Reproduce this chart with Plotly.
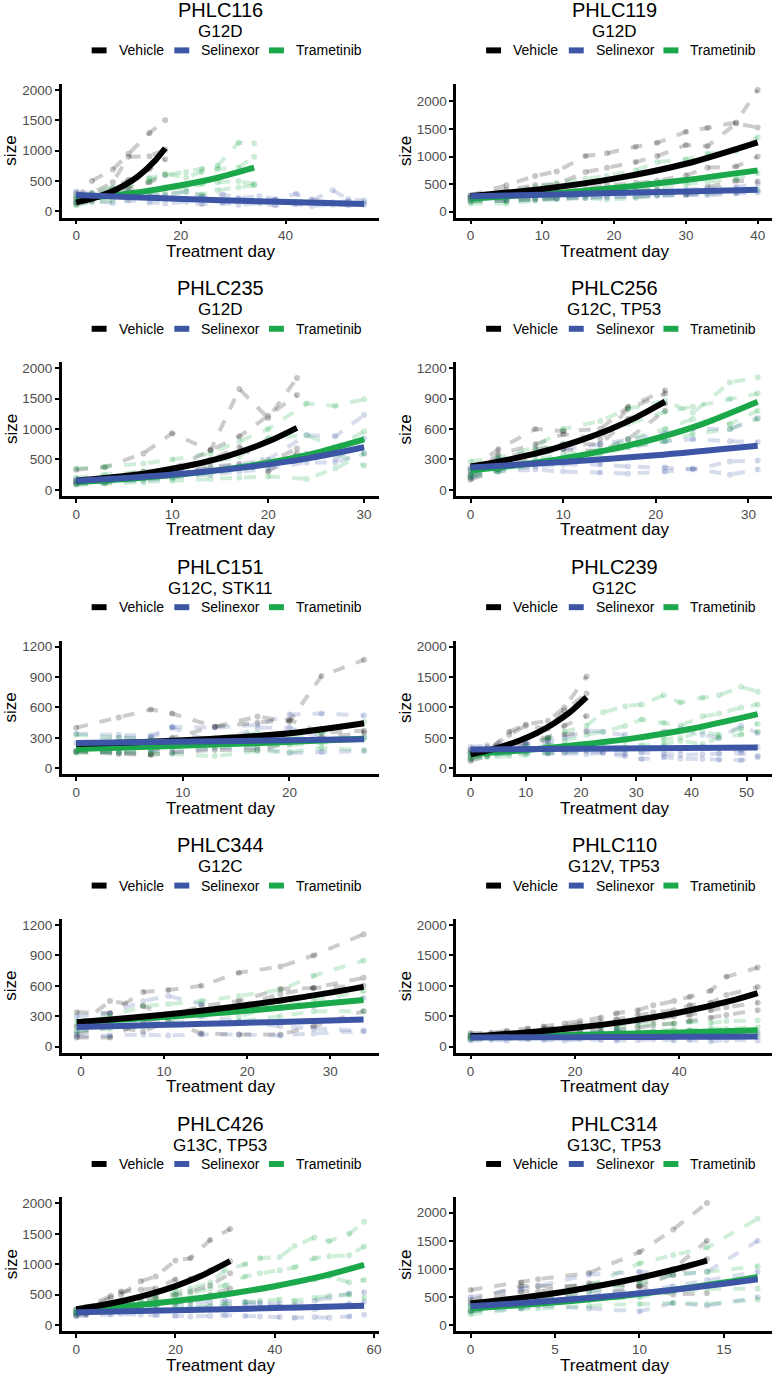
import plotly.graph_objects as go

W, H = 778, 1380
FONT = "Liberation Sans, Arial, sans-serif"

GROUPS = ["Vehicle", "Selinexor", "Trametinib"]
RGB = {"Vehicle": (0, 0, 0), "Selinexor": (60, 86, 165), "Trametinib": (27, 168, 75)}

PANEL_NAMES = ["PHLC116", "PHLC119", "PHLC235", "PHLC256", "PHLC151",
               "PHLC239", "PHLC344", "PHLC110", "PHLC426", "PHLC314"]
PANEL_SUBTITLES = ["G12D", "G12D", "G12D", "G12C, TP53", "G12C, STK11",
                   "G12C", "G12C", "G12V, TP53", "G13C, TP53", "G13C, TP53"]
X_TICKS = [[0, 20, 40], [0, 10, 20, 30, 40], [0, 10, 20, 30], [0, 10, 20, 30], [0, 10, 20],
           [0, 10, 20, 30, 40, 50], [0, 10, 20, 30], [0, 20, 40], [0, 20, 40, 60], [0, 5, 10, 15]]
Y_TICKS_2000 = [0, 500, 1000, 1500, 2000]
Y_TICKS_1200 = [0, 300, 600, 900, 1200]
Y_TICKS = [Y_TICKS_2000, Y_TICKS_2000, Y_TICKS_2000, Y_TICKS_1200, Y_TICKS_1200,
           Y_TICKS_2000, Y_TICKS_1200, Y_TICKS_2000, Y_TICKS_2000, Y_TICKS_2000]
X_RANGES = [[-2.75, 57.75], [-2, 42], [-1.5, 31.5], [-1.55, 32.55], [-1.35, 28.35],
            [-2.6, 54.6], [-2.3, 35.8], [-2.75, 57.75], [-2.9, 60.9], [-0.85, 17.85]]
Y_RANGES = [[-100, 2100], [-105, 2320], [-100, 2100], [-60, 1260], [-60, 1260],
            [-100, 2100], [-60, 1260], [-100, 2100], [-100, 2100], [-100, 2270]]

# ---------------- PHLC116 ----------------
P116_VEH_DAYS = [0, 3, 7, 10, 14, 17]
P116_VEH = [[210, 500, 690, 950, 1290, 1500],
            [150, 300, 480, 900, 910, 1020],
            [120, 180, 300, 380, 480, 600],
            [300, 250, 380, 520, 700, 860]]
P116_SEL_DAYS = [0, 3, 7, 10, 14, 17, 21, 24, 28, 31, 35, 38, 42, 45, 49, 52, 55]
P116_SEL = [[330, 300, 280, 320, 300, 270, 330, 250, 280, 220, 250, 200, 290, 180, 350, 200, 180],
            [250, 230, 260, 240, 220, 250, 200, 230, 190, 210, 170, 190, 160, 200, 150, 170, 140],
            [150, 170, 140, 180, 150, 130, 160, 120, 140, 110, 130, 100, 120, 90, 110, 100, 110]]
P116_TRA_DAYS = [0, 3, 7, 10, 14, 17, 21, 24, 27, 31, 34]
P116_TRA = [[250, 300, 400, 480, 550, 600, 650, 700, 750, 1130, 1120],
            [200, 250, 300, 420, 500, 620, 560, 650, 700, 720, 900],
            [150, 200, 250, 300, 350, 400, 380, 450, 480, 500, 450],
            [100, 150, 180, 220, 250, 300, 320, 280, 350, 400, 430]]
P116_VEH_FIT_X = [0, 3, 6, 9, 12, 15, 17]
P116_VEH_FIT_Y = [150, 211, 297, 419, 590, 830, 1040]
P116_SEL_FIT_X = [0, 11, 22, 33, 44, 55]
P116_SEL_FIT_Y = [270, 232, 200, 172, 148, 122]
P116_TRA_FIT_X = [0, 7, 14, 20, 27, 34]
P116_TRA_FIT_Y = [205, 265, 343, 430, 555, 720]

# ---------------- PHLC119 ----------------
P119_DAYS = [0, 5, 9, 12, 16, 19, 23, 26, 30, 33, 37, 40]
P119_VEH = [[300, 480, 650, 730, 1010, 1060, 1180, 1250, 1450, 1520, 1620, 2210],
            [250, 400, 480, 500, 720, 800, 900, 1010, 1210, 1190, 1600, 1530],
            [280, 300, 350, 350, 420, 480, 520, 560, 660, 800, 820, 1000],
            [200, 200, 220, 250, 300, 350, 380, 400, 320, 450, 560, 550]]
P119_SEL = [[270, 280, 300, 320, 330, 350, 370, 380, 400, 420, 450, 500],
            [200, 200, 220, 230, 250, 260, 280, 300, 300, 320, 350, 380],
            [250, 230, 250, 240, 260, 280, 270, 290, 310, 300, 330, 350]]
P119_TRA = [[250, 350, 450, 520, 600, 650, 750, 900, 950, 1050, 1100, 1350],
            [180, 200, 250, 280, 300, 350, 400, 450, 500, 550, 600, 700],
            [150, 150, 200, 230, 250, 220, 250, 300, 330, 350, 380, 400]]
P119_FIT_X = [0, 10, 20, 30, 40]
P119_VEH_FIT_Y = [285, 414, 600, 870, 1260]
P119_SEL_FIT_Y = [280, 309, 339, 369, 400]
P119_TRA_FIT_Y = [240, 320, 430, 575, 750]

# ---------------- PHLC235 ----------------
P235_VEH_DAYS = [0, 3, 7, 10, 14, 17, 20, 23]
P235_VEH = [[330, 370, 600, 930, 650, 1660, 1180, 1840],
            [150, 200, 300, 350, 650, 880, 1220, 1560],
            [120, 150, 250, 300, 500, 700, 450, 680],
            [100, 120, 200, 250, 380, 420, 300, 600]]
P235_TS_DAYS = [0, 3, 7, 10, 14, 17, 20, 24, 27, 30]
P235_SEL = [[180, 200, 250, 300, 350, 420, 500, 900, 880, 1230],
            [150, 180, 220, 280, 320, 380, 450, 600, 500, 850],
            [100, 120, 150, 200, 250, 300, 350, 450, 450, 600]]
P235_TRA = [[350, 380, 430, 500, 600, 800, 1000, 1420, 1380, 1490],
            [200, 250, 300, 350, 450, 550, 850, 900, 700, 960],
            [120, 150, 180, 200, 280, 350, 400, 500, 600, 400],
            [80, 100, 120, 150, 180, 200, 220, 180, 350, 600]]
P235_VEH_FIT_X = [0, 4, 8, 12, 16, 20, 23]
P235_VEH_FIT_Y = [150, 210, 292, 408, 569, 794, 1020]
P235_TS_FIT_X = [0, 6, 12, 18, 24, 30]
P235_SEL_FIT_Y = [150, 204, 278, 378, 514, 700]
P235_TRA_FIT_Y = [130, 188, 272, 394, 570, 830]

# ---------------- PHLC256 ----------------
P256_VEH_DAYS = [0, 3, 7, 10, 14, 17, 21]
P256_VEH = [[200, 400, 600, 580, 600, 820, 980],
            [150, 350, 450, 550, 500, 800, 950],
            [120, 300, 400, 450, 450, 700, 850],
            [100, 200, 350, 400, 380, 500, 780]]
P256_TS_DAYS = [0, 3, 7, 10, 14, 17, 21, 24, 28, 31]
P256_SEL = [[220, 300, 350, 400, 450, 500, 560, 600, 600, 710],
            [180, 250, 280, 320, 380, 420, 480, 500, 480, 470],
            [150, 200, 230, 250, 250, 230, 220, 200, 280, 290],
            [120, 180, 200, 180, 170, 160, 180, 210, 150, 200]]
P256_TRA = [[280, 320, 420, 600, 680, 800, 880, 760, 1060, 1110],
            [200, 250, 380, 450, 550, 650, 770, 820, 900, 950],
            [150, 200, 300, 350, 400, 500, 600, 700, 650, 780],
            [130, 180, 250, 300, 350, 420, 480, 550, 600, 700]]
P256_VEH_FIT_X = [0, 3, 6, 9, 12, 15, 18, 21]
P256_VEH_FIT_Y = [230, 278, 337, 407, 493, 596, 721, 870]
P256_SEL_FIT_X = [0, 10, 20, 31]
P256_SEL_FIT_Y = [220, 274, 341, 435]
P256_TRA_FIT_X = [0, 5, 10, 15, 20, 25, 31]
P256_TRA_FIT_Y = [190, 243, 310, 397, 507, 649, 870]

# ---------------- PHLC151 ----------------
P151_DAYS = [0, 4, 7, 9, 13, 17, 20, 23, 27]
P151_VEH = [[400, 500, 580, 540, 410, 510, 460, 910, 1070],
            [170, 150, 140, 300, 410, 450, 480, 350, 370],
            [160, 140, 130, 160, 180, 180, 250, 300, 350]]
P151_SEL = [[340, 330, 320, 410, 400, 430, 530, 540, 520],
            [250, 300, 300, 400, 250, 400, 400, 300, 300],
            [170, 160, 180, 150, 200, 200, 150, 160, 170]]
P151_TRA = [[330, 300, 280, 280, 300, 350, 300, 350, 460],
            [170, 160, 150, 140, 120, 170, 160, 200, 180],
            [150, 170, 190, 200, 210, 220, 230, 250, 300]]
P151_VEH_FIT_X = [0, 5, 10, 15, 20, 27]
P151_VEH_FIT_Y = [240, 255, 276, 305, 345, 445]
P151_TS_FIT_X = [0, 9, 18, 27]
P151_SEL_FIT_Y = [250, 261, 273, 285]
P151_TRA_FIT_Y = [190, 220, 252, 290]

# ---------------- PHLC239 ----------------
P239_VEH_DAYS = [0, 3, 7, 10, 14, 17, 21]
P239_VEH = [[150, 250, 600, 720, 780, 1000, 1510],
            [250, 300, 550, 700, 650, 950, 1230],
            [300, 350, 400, 500, 500, 700, 860],
            [120, 200, 350, 400, 480, 550, 600]]
P239_TS_DAYS = [0, 3, 7, 10, 14, 17, 21, 24, 28, 31, 35, 38, 42, 45, 49, 52]
P239_SEL = [[350, 380, 400, 420, 450, 500, 620, 600, 550, 500, 600, 650, 550, 500, 700, 580],
            [300, 320, 350, 380, 400, 380, 350, 300, 300, 320, 350, 300, 350, 320, 300, 350],
            [250, 270, 280, 300, 260, 250, 230, 250, 200, 150, 180, 160, 150, 140, 130, 180],
            [200, 220, 240, 260, 240, 260, 280, 260, 240, 260, 240, 220, 230, 240, 250, 200]]
P239_TRA = [[250, 280, 300, 350, 500, 600, 700, 920, 1020, 1050, 1200, 1080, 1160, 1200, 1340, 1260],
            [200, 220, 280, 300, 380, 450, 550, 600, 700, 800, 750, 700, 850, 900, 1000, 1050],
            [180, 200, 250, 280, 300, 350, 400, 420, 450, 500, 480, 500, 600, 550, 650, 730],
            [150, 180, 200, 220, 250, 280, 300, 320, 350, 380, 400, 450, 400, 500, 550, 600]]
P239_VEH_FIT_X = [0, 3, 6, 9, 12, 15, 18, 21]
P239_VEH_FIT_Y = [230, 290, 365, 460, 580, 732, 922, 1170]
P239_SEL_FIT_X = [0, 26, 52]
P239_SEL_FIT_Y = [310, 326, 342]
P239_TRA_FIT_X = [0, 10, 20, 30, 40, 52]
P239_TRA_FIT_Y = [230, 300, 390, 500, 650, 890]

# ---------------- PHLC344 ----------------
P344_DAYS = [-0.5, 3.5, 7.5, 10.5, 14.5, 19, 24, 28, 34]
P344_VEH = [[340, 330, 540, 560, 600, 730, 790, 900, 1110],
            [200, 450, 400, 300, 400, 450, 570, 580, 680],
            [90, 90, 250, 300, 350, 400, 520, 580, 600],
            [120, 200, 150, 250, 130, 120, 120, 200, 350]]
P344_SEL = [[300, 330, 450, 500, 420, 350, 380, 400, 480],
            [150, 200, 250, 280, 300, 250, 200, 180, 160],
            [100, 110, 120, 110, 120, 120, 110, 130, 150]]
P344_TRA = [[250, 300, 400, 420, 450, 500, 560, 700, 850],
            [200, 220, 300, 300, 350, 300, 400, 450, 550],
            [150, 180, 200, 250, 230, 250, 300, 350, 350]]
P344_FIT_X = [-0.5, 6, 12, 18, 24, 30, 34]
P344_VEH_FIT_Y = [240, 284, 332, 389, 455, 533, 590]
P344_SEL_FIT_Y = [195, 207, 219, 231, 244, 258, 268]
P344_TRA_FIT_Y = [240, 272, 305, 342, 384, 431, 460]

# ---------------- PHLC110 ----------------
P110_DAYS = [0, 4, 7, 11, 14, 18, 21, 25, 28, 32, 35, 39, 42, 46, 49, 55]
P110_VEH = [[220, 230, 260, 300, 330, 380, 420, 480, 550, 600, 680, 750, 820, 920, 1150, 1300],
            [180, 200, 240, 250, 300, 320, 380, 400, 450, 520, 560, 600, 680, 720, 850, 980],
            [150, 170, 180, 220, 230, 280, 290, 330, 360, 400, 440, 500, 520, 600, 650, 720],
            [130, 140, 170, 180, 200, 210, 240, 260, 290, 310, 350, 380, 420, 470, 520, 600]]
P110_SEL = [[200, 220, 210, 240, 230, 260, 250, 240, 260, 230, 250, 240, 260, 230, 220, 240],
            [150, 160, 140, 160, 150, 170, 150, 160, 140, 160, 170, 150, 160, 150, 170, 160],
            [100, 110, 100, 120, 110, 100, 120, 110, 100, 110, 120, 100, 110, 90, 110, 100]]
P110_TRA = [[190, 200, 230, 240, 270, 280, 310, 330, 320, 350, 370, 380, 410, 390, 420, 430],
            [150, 170, 160, 190, 200, 190, 220, 230, 250, 240, 260, 280, 270, 300, 290, 320],
            [120, 130, 150, 140, 160, 150, 170, 160, 180, 190, 180, 200, 210, 190, 220, 210]]
P110_FIT_X = [0, 10, 20, 30, 40, 50, 55]
P110_VEH_FIT_Y = [170, 229, 309, 416, 561, 756, 880]
P110_SEL_FIT_Y = [150, 153, 155, 158, 161, 163, 165]
P110_TRA_FIT_Y = [160, 176, 193, 212, 234, 257, 270]

# ---------------- PHLC426 ----------------
P426_VEH_DAYS = [0, 2, 7, 9, 13, 16, 20, 23, 27, 31]
P426_VEH = [[250, 300, 480, 500, 720, 800, 1060, 1100, 1400, 1580],
            [200, 250, 450, 550, 580, 600, 750, 760, 900, 1050],
            [180, 200, 300, 350, 400, 450, 500, 550, 650, 850],
            [150, 180, 250, 300, 300, 350, 380, 400, 500, 600]]
P426_TS_DAYS = [0, 2, 7, 9, 13, 16, 20, 23, 27, 30, 34, 37, 41, 44, 48, 51, 55, 58]
P426_SEL = [[250, 260, 280, 300, 320, 330, 350, 360, 380, 400, 380, 370, 350, 330, 400, 450, 520, 540],
            [200, 200, 220, 230, 240, 250, 260, 280, 300, 320, 330, 350, 300, 280, 260, 300, 350, 380],
            [150, 160, 170, 180, 170, 160, 150, 140, 150, 160, 150, 140, 130, 120, 130, 120, 140, 170]]
P426_TRA = [[250, 280, 350, 400, 450, 500, 550, 600, 700, 900, 1000, 1100, 1120, 1300, 1440, 1380, 1500, 1700],
            [220, 250, 300, 320, 380, 420, 480, 520, 600, 650, 800, 850, 900, 950, 1100, 1130, 1150, 1290],
            [200, 220, 250, 280, 300, 330, 360, 400, 450, 500, 550, 600, 650, 700, 750, 800, 700, 740],
            [180, 200, 220, 230, 250, 260, 280, 300, 320, 350, 380, 400, 420, 400, 450, 480, 500, 450]]
P426_VEH_FIT_X = [0, 5, 10, 15, 20, 25, 31]
P426_VEH_FIT_Y = [260, 326, 408, 511, 640, 801, 1050]
P426_TS_FIT_X = [0, 10, 20, 30, 40, 50, 58]
P426_SEL_FIT_Y = [210, 226, 242, 260, 279, 300, 318]
P426_TRA_FIT_Y = [245, 311, 396, 503, 639, 812, 990]

# ---------------- PHLC314 ----------------
P314_VEH_DAYS = [0, 3, 4, 7, 10, 12, 14]
P314_VEH = [[630, 760, 820, 930, 1300, 1700, 2170],
            [450, 700, 700, 700, 800, 1000, 1500],
            [400, 600, 600, 750, 700, 900, 1180],
            [250, 400, 500, 500, 700, 550, 570]]
P314_TS_DAYS = [0, 3, 4, 7, 10, 12, 14, 17]
P314_SEL = [[500, 650, 700, 900, 950, 900, 950, 1500],
            [350, 450, 500, 600, 600, 700, 800, 950],
            [250, 300, 350, 300, 250, 400, 350, 500]]
P314_TRA = [[350, 500, 550, 700, 1100, 1250, 1380, 1890],
            [300, 400, 450, 600, 750, 900, 950, 1050],
            [250, 350, 400, 450, 500, 600, 650, 650],
            [200, 300, 300, 350, 380, 400, 380, 460]]
P314_VEH_FIT_X = [0, 2, 4, 6, 8, 10, 12, 14]
P314_VEH_FIT_Y = [390, 455, 532, 621, 725, 846, 988, 1150]
P314_TS_FIT_X = [0, 3, 6, 9, 12, 15, 17]
P314_SEL_FIT_Y = [340, 397, 464, 542, 633, 740, 820]
P314_TRA_FIT_Y = [300, 361, 435, 524, 631, 760, 860]

# assemble per panel: group -> (days, mice, fit_x, fit_y)
PANEL_DATA = [
    {"Vehicle": (P116_VEH_DAYS, P116_VEH, P116_VEH_FIT_X, P116_VEH_FIT_Y),
     "Selinexor": (P116_SEL_DAYS, P116_SEL, P116_SEL_FIT_X, P116_SEL_FIT_Y),
     "Trametinib": (P116_TRA_DAYS, P116_TRA, P116_TRA_FIT_X, P116_TRA_FIT_Y)},
    {"Vehicle": (P119_DAYS, P119_VEH, P119_FIT_X, P119_VEH_FIT_Y),
     "Selinexor": (P119_DAYS, P119_SEL, P119_FIT_X, P119_SEL_FIT_Y),
     "Trametinib": (P119_DAYS, P119_TRA, P119_FIT_X, P119_TRA_FIT_Y)},
    {"Vehicle": (P235_VEH_DAYS, P235_VEH, P235_VEH_FIT_X, P235_VEH_FIT_Y),
     "Selinexor": (P235_TS_DAYS, P235_SEL, P235_TS_FIT_X, P235_SEL_FIT_Y),
     "Trametinib": (P235_TS_DAYS, P235_TRA, P235_TS_FIT_X, P235_TRA_FIT_Y)},
    {"Vehicle": (P256_VEH_DAYS, P256_VEH, P256_VEH_FIT_X, P256_VEH_FIT_Y),
     "Selinexor": (P256_TS_DAYS, P256_SEL, P256_SEL_FIT_X, P256_SEL_FIT_Y),
     "Trametinib": (P256_TS_DAYS, P256_TRA, P256_TRA_FIT_X, P256_TRA_FIT_Y)},
    {"Vehicle": (P151_DAYS, P151_VEH, P151_VEH_FIT_X, P151_VEH_FIT_Y),
     "Selinexor": (P151_DAYS, P151_SEL, P151_TS_FIT_X, P151_SEL_FIT_Y),
     "Trametinib": (P151_DAYS, P151_TRA, P151_TS_FIT_X, P151_TRA_FIT_Y)},
    {"Vehicle": (P239_VEH_DAYS, P239_VEH, P239_VEH_FIT_X, P239_VEH_FIT_Y),
     "Selinexor": (P239_TS_DAYS, P239_SEL, P239_SEL_FIT_X, P239_SEL_FIT_Y),
     "Trametinib": (P239_TS_DAYS, P239_TRA, P239_TRA_FIT_X, P239_TRA_FIT_Y)},
    {"Vehicle": (P344_DAYS, P344_VEH, P344_FIT_X, P344_VEH_FIT_Y),
     "Selinexor": (P344_DAYS, P344_SEL, P344_FIT_X, P344_SEL_FIT_Y),
     "Trametinib": (P344_DAYS, P344_TRA, P344_FIT_X, P344_TRA_FIT_Y)},
    {"Vehicle": (P110_DAYS, P110_VEH, P110_FIT_X, P110_VEH_FIT_Y),
     "Selinexor": (P110_DAYS, P110_SEL, P110_FIT_X, P110_SEL_FIT_Y),
     "Trametinib": (P110_DAYS, P110_TRA, P110_FIT_X, P110_TRA_FIT_Y)},
    {"Vehicle": (P426_VEH_DAYS, P426_VEH, P426_VEH_FIT_X, P426_VEH_FIT_Y),
     "Selinexor": (P426_TS_DAYS, P426_SEL, P426_TS_FIT_X, P426_SEL_FIT_Y),
     "Trametinib": (P426_TS_DAYS, P426_TRA, P426_TS_FIT_X, P426_TRA_FIT_Y)},
    {"Vehicle": (P314_VEH_DAYS, P314_VEH, P314_VEH_FIT_X, P314_VEH_FIT_Y),
     "Selinexor": (P314_TS_DAYS, P314_SEL, P314_TS_FIT_X, P314_SEL_FIT_Y),
     "Trametinib": (P314_TS_DAYS, P314_TRA, P314_TS_FIT_X, P314_TRA_FIT_Y)},
]


def rgba(name, a):
    r, g, b = RGB[name]
    return f"rgba({r},{g},{b},{a})"


def px_x(v):
    return v / W


def px_y(v):
    return 1 - v / H


fig = go.Figure()
annotations = []
shapes = []
layout_axes = {}

ROW_STEP = 279
FIT_ORDER = ["Trametinib", "Vehicle", "Selinexor"]

for k, name in enumerate(PANEL_NAMES):
    r, c = divmod(k, 2)
    T = r * ROW_STEP
    x0, x1 = (62, 380) if c == 0 else (458, 775)
    top, bot = T + 83, T + 217
    sfx = "" if k == 0 else str(k + 1)
    xa, ya = "x" + sfx, "y" + sfx

    data = PANEL_DATA[k]
    for g in GROUPS:
        days, mice, fx, fy = data[g]
        for m in mice:
            fig.add_trace(go.Scatter(
                x=days, y=m, xaxis=xa, yaxis=ya, mode="lines+markers",
                line=dict(color=rgba(g, 0.2), width=4, dash="dash"),
                marker=dict(color=rgba(g, 0.22), size=6),
                showlegend=False, hoverinfo="skip"))
    for g in FIT_ORDER:
        days, mice, fx, fy = data[g]
        fig.add_trace(go.Scatter(
            x=fx, y=fy, xaxis=xa, yaxis=ya, mode="lines",
            line=dict(color=rgba(g, 1), width=6, shape="spline", smoothing=0.8),
            showlegend=False, hoverinfo="skip"))

    axis_common = dict(ticks="outside", ticklen=4, tickwidth=2, tickcolor="black",
                       showline=True, linewidth=2.5, linecolor="black",
                       showgrid=False, zeroline=False,
                       tickfont=dict(size=13.5, color="#4D4D4D", family=FONT))
    layout_axes["xaxis" + sfx] = dict(domain=[px_x(x0), px_x(x1)], range=X_RANGES[k],
                                      tickvals=X_TICKS[k], anchor=ya, **axis_common)
    layout_axes["yaxis" + sfx] = dict(domain=[px_y(bot), px_y(top)], range=Y_RANGES[k],
                                      tickvals=Y_TICKS[k], anchor=xa, **axis_common)

    cx = (x0 + x1) / 2
    annotations.append(dict(text=name, x=px_x(cx), y=px_y(T + 9), xref="paper", yref="paper",
                            showarrow=False, xanchor="center", yanchor="middle",
                            font=dict(size=20, color="black", family=FONT)))
    annotations.append(dict(text=PANEL_SUBTITLES[k], x=px_x(cx), y=px_y(T + 30.5), xref="paper",
                            yref="paper", showarrow=False, xanchor="center", yanchor="middle",
                            font=dict(size=17, color="black", family=FONT)))
    # legend
    lx = x0 + 30
    key_off = [0, 83, 178]
    for gi, g in enumerate(GROUPS):
        kx = lx + key_off[gi]
        shapes.append(dict(type="rect", xref="paper", yref="paper",
                           x0=px_x(kx), x1=px_x(kx + 15), y0=px_y(T + 52.5), y1=px_y(T + 46.5),
                           fillcolor=rgba(g, 1), line=dict(width=0)))
        annotations.append(dict(text=g, x=px_x(kx + 25), y=px_y(T + 49.5), xref="paper",
                                yref="paper", showarrow=False, xanchor="left", yanchor="middle",
                                font=dict(size=14, color="black", family=FONT)))
    # axis titles
    annotations.append(dict(text="Treatment day", x=px_x(cx), y=px_y(bot + 34), xref="paper",
                            yref="paper", showarrow=False, xanchor="center", yanchor="middle",
                            font=dict(size=17, color="black", family=FONT)))
    annotations.append(dict(text="size", x=px_x(x0 - 51), y=px_y((top + bot) / 2), xref="paper",
                            yref="paper", showarrow=False, xanchor="center", yanchor="middle",
                            textangle=-90, font=dict(size=17, color="black", family=FONT)))

fig.update_layout(width=W, height=H, margin=dict(l=0, r=0, t=0, b=0),
                  paper_bgcolor="white", plot_bgcolor="white",
                  font=dict(family=FONT), annotations=annotations, shapes=shapes,
                  showlegend=False, **layout_axes)

fig.write_html("out.html", config={"displayModeBar": False},
               post_script="document.body.style.margin='0';document.body.style.padding='0';")
